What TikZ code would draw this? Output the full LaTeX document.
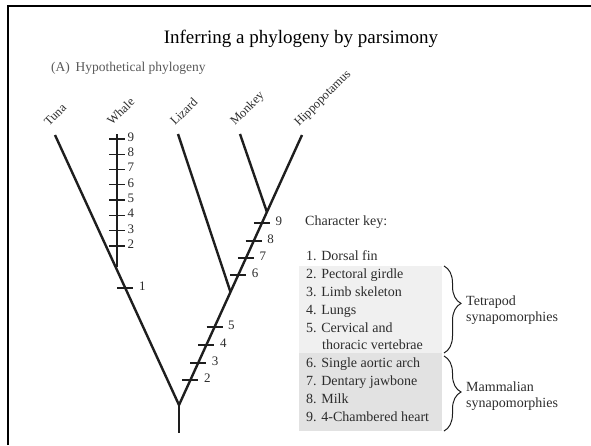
\documentclass[tikz,border=0pt]{standalone}
\usepackage{fontspec}
\setmainfont{Liberation Serif}
\usetikzlibrary{decorations.pathreplacing}
\definecolor{ink}{HTML}{1E1E1E}
\definecolor{txt}{HTML}{2C2C2C}
\definecolor{boxA}{HTML}{F0F0F0}
\definecolor{boxB}{HTML}{E2E2E2}
\begin{document}
\begin{tikzpicture}[x=1pt,y=-1pt,
  branch/.style={line width=2.4pt, draw=ink},
  tick/.style={line width=1.3pt, draw=ink},
  num/.style={anchor=mid west, inner sep=0.5pt, text=txt, font=\fontsize{13}{13}\selectfont},
  taxon/.style={anchor=base west, rotate=45, inner sep=0pt, text=txt, font=\fontsize{12.5}{12.5}\selectfont},
  keyitem/.style={anchor=mid west, inner sep=0pt, text=txt, font=\fontsize{14}{14}\selectfont},
  groupname/.style={anchor=west, inner sep=0pt, text=txt, align=left, font=\fontsize{14}{15.5}\selectfont},
  grpbrace/.style={decorate, draw=ink, line width=1pt, decoration={brace, amplitude=17pt}},
]
\useasboundingbox (0,0) rectangle (591,445);

% frame
\coordinate (fbl) at (8,445);
\coordinate (ftl) at (8,6);
\coordinate (ftr) at (591,6);
\draw[line width=2.4pt, line join=miter] (fbl) -- (ftl) -- (ftr);

% headings
\node[anchor=base, inner sep=0pt, font=\fontsize{19}{19}\selectfont] (title) at (301,43)
  {Inferring a phylogeny by parsimony};
\node[anchor=base west, inner sep=0pt, text=black!65, font=\fontsize{13.5}{13.5}\selectfont] (sub) at (51,71)
  {(A)\, Hypothetical phylogeny};

% tree skeleton
\coordinate (root) at (179,405);
\coordinate (base) at (179,433);
\coordinate (tuna) at (55,135);
\coordinate (whale) at (117,134);
\coordinate (lizard) at (178,134);
\coordinate (monkey) at (240,134);
\coordinate (hippo) at (302,135);
\coordinate (jwhale) at (117,267.3);
\coordinate (jlizard) at (230.5,292);
\coordinate (jmonkey) at (266.9,212);

\draw[branch] (tuna) -- (root);
\draw[branch] (hippo) -- (root);
\draw[branch] (whale) -- (jwhale);
\draw[branch] (lizard) -- (jlizard);
\draw[branch] (monkey) -- (jmonkey);
\draw[branch] (root) -- (base);

% taxon names
\node[taxon] (ltuna)   at ([shift={(-6,-8)}]tuna)   {Tuna};
\node[taxon] (lwhale)  at ([shift={(-5,-8)}]whale)  {Whale};
\node[taxon] (llizard) at ([shift={(-3,-8)}]lizard) {Lizard};
\node[taxon] (lmonkey) at ([shift={(-5,-8)}]monkey) {Monkey};
\node[taxon] (lhippo)  at ([shift={(-3,-8)}]hippo)  {Hippopotamus};

% character changes on the whale branch (reversals)
\foreach \n in {2,...,9}{
  \pgfmathsetmacro\yy{246-(\n-2)*15.3}
  \coordinate (w\n) at (117,\yy);
  \draw[tick] ([xshift=-8pt]w\n) -- ([xshift=8pt]w\n);
  \node[num] (lw\n) at ([xshift=10pt]w\n) {\n};
}

% dorsal fin change on the tuna branch
\coordinate (t1) at (125.3,288);
\draw[tick] ([xshift=-8pt]t1) -- ([xshift=8pt]t1);
\node[num] (lt1) at ([xshift=13pt]t1) {1};

% changes along the tetrapod and mammal stem
\foreach \n/\y in {2/380,3/363,4/345,5/327,6/275,7/258,8/241,9/223}{
  \pgfmathsetmacro\xx{179+(405-\y)*0.45556}
  \coordinate (m\n) at (\xx,\y);
  \draw[tick] ([xshift=-8pt]m\n) -- ([xshift=8pt]m\n);
  \node[num] (lm\n) at ([xshift=13pt]m\n) {\n};
}

% character key
\fill[boxA] (299,266) rectangle (442,353);
\fill[boxB] (299,353) rectangle (442,431);
\node[keyitem] (khead) at (305,223) {Character key:};
\node[keyitem] (k1) at (306,258) {1. Dorsal fin};
\node[keyitem] (k2) at (306,276) {2. Pectoral girdle};
\node[keyitem] (k3) at (306,294) {3. Limb skeleton};
\node[keyitem] (k4) at (306,312) {4. Lungs};
\node[keyitem] (k5) at (306,330) {5. Cervical and};
\node[keyitem] (k5b) at (322,347) {thoracic vertebrae};
\node[keyitem] (k6) at (306,365) {6. Single aortic arch};
\node[keyitem] (k7) at (306,383) {7. Dentary jawbone};
\node[keyitem] (k8) at (306,401) {8. Milk};
\node[keyitem] (k9) at (306,419) {9. 4-Chambered heart};

% groupings
\coordinate (bta) at (444,266);
\coordinate (btb) at (444,353);
\coordinate (bma) at (444,356);
\coordinate (bmb) at (444,431);
\draw[grpbrace, decoration={aspect=0.43}] (bta) -- (btb);
\draw[grpbrace, decoration={aspect=0.48}] (bma) -- (bmb);
\node[groupname] (gtet) at (466,310) {Tetrapod\\synapomorphies};
\node[groupname] (gmam) at (466,396) {Mammalian\\synapomorphies};
\end{tikzpicture}
\end{document}
